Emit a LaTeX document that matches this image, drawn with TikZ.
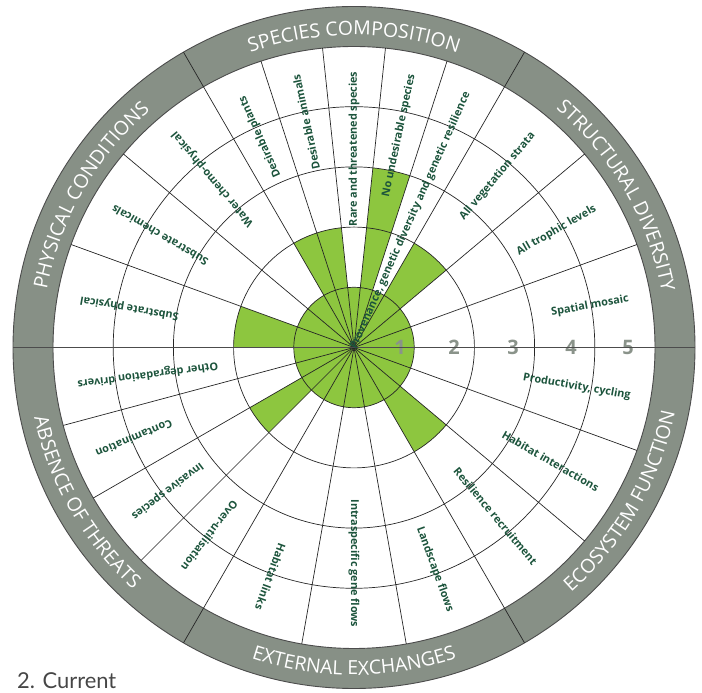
\documentclass[tikz,border=0pt]{standalone}
\usepackage{fontspec}
\setmainfont{Open Sans}
\newfontfamily\captionfont{Lato}
\usetikzlibrary{decorations.text}
\definecolor{ringgray}{RGB}{135,144,134}
\definecolor{leafgreen}{RGB}{141,198,63}
\definecolor{labelgreen}{RGB}{28,84,60}
\definecolor{numgray}{RGB}{138,147,138}
\definecolor{captiongray}{RGB}{70,70,70}
\newcommand\ringfont{\fontsize{19.5}{19.5}\selectfont}
\tikzset{
  sublabel/.style={font=\bfseries\fontsize{10.9}{12}\selectfont, text=labelgreen, anchor=east, inner sep=0pt},
  gridline/.style={draw=black!85, line width=0.7bp},
  ringedge/.style={draw=black!70, line width=0.9bp},
  axisline/.style={draw=black!70, line width=1.4bp},
  scorenum/.style={font=\bfseries\fontsize{20}{20}\selectfont, text=numgray, inner sep=0pt},
  ringtext/.style={decorate, decoration={text along path, text={|\ringfont|#1}, text align=center, text color=white}}
}
\newcommand\greenwedge[3]{\fill[leafgreen] (0,0) -- (#1:#3) arc (#1:#2:#3) -- cycle;}
\begin{document}
\begin{tikzpicture}[x=1bp,y=1bp]
\useasboundingbox (0,0) rectangle (702,693);
\begin{scope}[shift={(354,345.5)}]
  % attribute ring
  \fill[ringgray, even odd rule] (0,0) circle (341) (0,0) circle (301);
  % scores
  \fill[leafgreen] (0,0) circle (60.2);
  \greenwedge{96}{120}{120.4}
  \greenwedge{72}{84}{180.6}
  \greenwedge{40}{60}{120.4}
  \greenwedge{300}{320}{120.4}
  \greenwedge{210}{225}{120.4}
  \greenwedge{160}{180}{120.4}
  % rings
  \foreach \r in {60.2,120.4,180.6,240.8} \draw[gridline] (0,0) circle (\r);
  \draw[ringedge] (0,0) circle (301);
  \draw[ringedge] (0,0) circle (341);
  % sub-attribute spokes
  \foreach \a in {20,40,72,84,96,108,140,160,195,210,225,260,280,320,340}
    \draw[gridline] (0,0) -- (\a:301);
  % attribute boundaries
  \foreach \a in {60,120,240,300}
    \draw[gridline] (0,0) -- (\a:341);
  % score numbers
  \node[scorenum] (n1) at (46,0) {1};
  \node[scorenum] (n2) at (100,0) {2};
  \node[scorenum] (n3) at (159,0) {3};
  \node[scorenum] (n4) at (217,0) {4};
  \node[scorenum] (n5) at (274,0) {5};
  \draw[axisline] (180:341) -- (0:341);
  % sub-attribute labels
  \node[sublabel, rotate=66] (l1) at (66:279) {Provenance, genetic diversity and genetic resilience};
  \node[sublabel, rotate=78] (l2) at (78:279) {No undesirable species};
  \node[sublabel, rotate=90] (l3) at (90:276) {Rare and threatened species};
  \node[sublabel, rotate=102] (l4) at (102:279) {Desirable animals};
  \node[sublabel, rotate=114] (l5) at (114:275) {Desirable plants};
  \node[sublabel, rotate=50] (l6) at (50:279) {All vegetation strata};
  \node[sublabel, rotate=30] (l7) at (30:279) {All trophic levels};
  \node[sublabel, rotate=10] (l8) at (10:279) {Spatial mosaic};
  \node[sublabel, rotate=-10] (l9) at (-10:281) {Productivity, cycling};
  \node[sublabel, rotate=-30] (l10) at (-30:282) {Habitat interactions};
  \node[sublabel, rotate=-50] (l11) at (-50:282) {Resilience recruitment};
  \node[sublabel, rotate=-70] (l12) at (-70:281) {Landscape flows};
  \node[sublabel, rotate=-90] (l13) at (-90:280) {Intraspecific gene flows};
  \node[sublabel, rotate=-110] (l14) at (-110:279) {Habitat links};
  \node[sublabel, rotate=187.5] (l15) at (187.5:279) {Other degradation drivers};
  \node[sublabel, rotate=202.5] (l16) at (202.5:279) {Contamination};
  \node[sublabel, rotate=217.5] (l17) at (217.5:279) {Invasive species};
  \node[sublabel, rotate=232.5] (l18) at (232.5:280) {Over-utilisation};
  \node[sublabel, rotate=130] (l19) at (130:280) {Water chemo-physical};
  \node[sublabel, rotate=150] (l20) at (150:279) {Substrate chemicals};
  \node[sublabel, rotate=170] (l21) at (170:278) {Substrate physical};
  % attribute names
  \path[ringtext={SPECIES COMPOSITION}] (120:312.5) arc (120:60:312.5);
  \path[ringtext={STRUCTURAL DIVERSITY}] (60:312.5) arc (60:0:312.5);
  \path[ringtext={PHYSICAL CONDITIONS}] (180:312.5) arc (180:120:312.5);
  \path[ringtext={ECOSYSTEM FUNCTION}] (300:327.5) arc (300:360:327.5);
  \path[ringtext={EXTERNAL EXCHANGES}] (240:327.5) arc (240:300:327.5);
  \path[ringtext={ABSENCE OF THREATS}] (180:327.5) arc (180:240:327.5);
\end{scope}
\node[anchor=base west, inner sep=0pt, font=\captionfont\fontsize{22}{22}\selectfont, text=captiongray] (caption) at (17,4) {2. Current};
\end{tikzpicture}
\end{document}
